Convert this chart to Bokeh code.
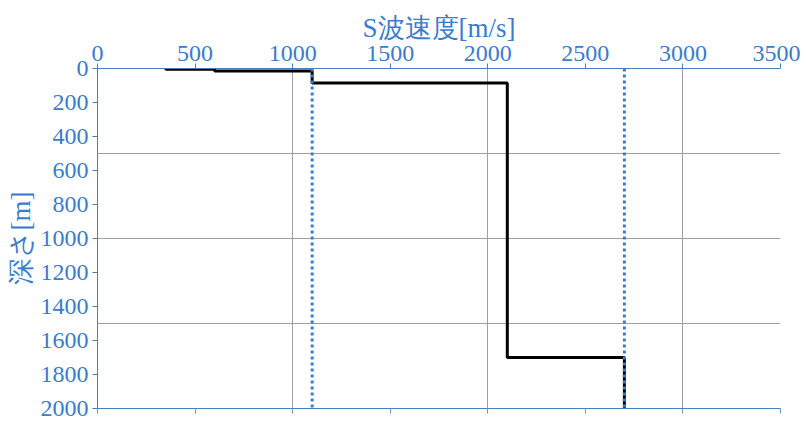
from bokeh.plotting import figure
from bokeh.models import Range1d, LinearAxis, SingleIntervalTicker, FixedTicker, CustomJSTickFormatter
from bokeh.embed import file_html
from bokeh.resources import INLINE

# Layer data: S-wave velocity profile
vs = [350, 600, 1100, 2100, 2700]
depth_top = [0, 4, 14, 85, 1700]
depth_bottom = [4, 14, 85, 1700, 2000]
# reference velocities (dotted lines)
ref_vs = [1100, 2700]
ref_depth = [0, 2000]

x_ticks = [0, 500, 1000, 1500, 2000, 2500, 3000, 3500]
y_ticks = [0, 200, 400, 600, 800, 1000, 1200, 1400, 1600, 1800, 2000]

BLUE_TXT = "#3b7ccb"
BLUE_AX = "#4a7ebb"
FONT = "Liberation Serif"

p = figure(width=800, height=420, output_backend="svg", toolbar_location=None,
           x_range=Range1d(0, 3500), y_range=Range1d(2000, 0),
           x_axis_location="above", min_border_left=97, min_border_right=20,
           min_border_top=68, min_border_bottom=12)
p.outline_line_color = None
p.background_fill_color = "white"

# step polyline
xs, ys = [], []
for i, v in enumerate(vs):
    xs += [v, v]
    ys += [depth_top[i], depth_bottom[i]]
p.line(xs, ys, line_color="black", line_width=3)

for v in ref_vs:
    p.line([v, v], ref_depth, line_color="#3a7bd5", line_width=3, line_dash="3 3")

# grids
p.xgrid.ticker = SingleIntervalTicker(interval=1000)
p.ygrid.ticker = SingleIntervalTicker(interval=500)
for g in (p.xgrid[0], p.ygrid[0]):
    g.grid_line_color = "#a0a0a0"
    g.grid_line_width = 1

# top axis
xa = p.xaxis[0]
xa.ticker = FixedTicker(ticks=x_ticks)
xa.axis_label = "S波速度[m/s]"
ya = p.yaxis[0]
ya.ticker = FixedTicker(ticks=y_ticks)
ya.axis_label = "深さ[m]"
for ax in (xa, ya):
    ax.axis_line_color = BLUE_AX
    ax.major_tick_line_color = BLUE_AX
    ax.major_tick_out = 5
    ax.major_tick_in = 0
    ax.minor_tick_line_color = None
    ax.major_label_text_color = BLUE_TXT
    ax.major_label_text_font = FONT
    ax.major_label_text_font_size = "24px"
    ax.axis_label_text_color = BLUE_TXT
    ax.axis_label_text_font = FONT
    ax.axis_label_text_font_size = "27px"
    ax.axis_label_text_font_style = "normal"
xa.major_label_standoff = 3
xa.axis_label_standoff = 0
ya.major_label_standoff = 4
ya.axis_label_standoff = 2

# bottom axis line without labels
bx = LinearAxis(ticker=FixedTicker(ticks=x_ticks),
                formatter=CustomJSTickFormatter(code="return ''"))
bx.axis_line_color = BLUE_AX
bx.major_tick_line_color = "#7090c0"
bx.major_tick_out = 5
bx.major_tick_in = 0
bx.minor_tick_line_color = None
bx.major_label_standoff = 0
p.add_layout(bx, "below")

open("out.html", "w").write(file_html(p, INLINE))
